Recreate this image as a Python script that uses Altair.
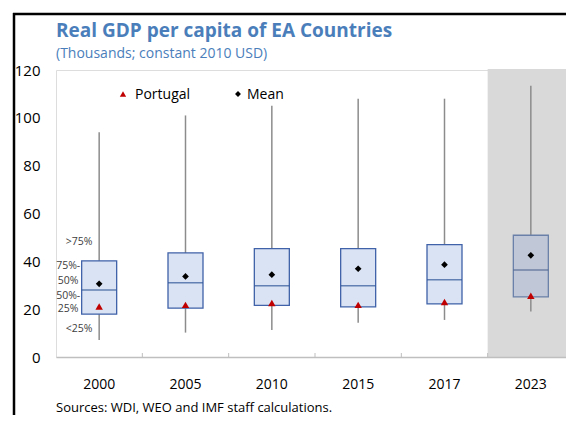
import altair as alt
import pandas as pd

years = ["2000", "2005", "2010", "2015", "2017", "2023"]
low = [7.1, 10.2, 11.3, 14.3, 15.5, 19.0]
q1 = [17.9, 20.4, 21.6, 21.0, 22.2, 25.1]
median = [28.0, 31.0, 29.8, 29.8, 32.3, 36.4]
q3 = [40.2, 43.5, 45.3, 45.3, 47.0, 50.9]
high = [94.0, 101.0, 105.0, 108.0, 108.0, 113.4]
mean = [30.6, 33.7, 34.4, 36.9, 38.6, 42.5]
portugal = [21.1, 21.8, 22.6, 21.8, 23.0, 25.6]

ann_outer = [">75%", "<25%"]
ann_outer_y = [48.1, 11.7]
ann_inner = ["75%-", "50%", "50%-", "25%"]
ann_inner_y = [37.9, 31.9, 25.6, 20.1]

title = "Real GDP per capita of EA Countries"
subtitle = "(Thousands; constant 2010 USD)"
source = "Sources: WDI, WEO and IMF staff calculations."

df = pd.DataFrame({"year": years, "low": low, "q1": q1, "median": median,
                   "q3": q3, "high": high, "mean": mean, "portugal": portugal})

FONT = "Open Sans"
W, H = 518, 287

xenc = alt.X("year:N", sort=years, title=None,
             scale=alt.Scale(domain=years, paddingInner=0, paddingOuter=0),
             axis=alt.Axis(labelAngle=0, labelFontSize=14, labelColor="#000000",
                           labelFont=FONT, labelPadding=20, ticks=False,
                           domainColor="#bfbfbf", domainWidth=1.5))
yscale = alt.Scale(domain=[0, 120], nice=False)

base = alt.Chart(df)

shade = base.transform_filter(alt.datum.year == "2023").mark_rect(
    color="#d9d9d9").encode(x=xenc, y=alt.value(-1), y2=alt.value(H))

ticks = base.transform_filter(alt.datum.year != "2000").mark_rule(
    color="#bfbfbf", strokeWidth=1).encode(
    x=alt.X("year:N", sort=years, bandPosition=0,
            scale=alt.Scale(domain=years, paddingInner=0, paddingOuter=0)),
    y=alt.value(H), y2=alt.value(H - 4))

whisk = base.mark_rule(color="#8c8c8c", strokeWidth=1.5).encode(
    x=xenc,
    y=alt.Y("low:Q", scale=yscale,
            axis=alt.Axis(values=[0, 20, 40, 60, 80, 100, 120], grid=False,
                          ticks=False, domain=False, labelFontSize=15,
                          labelColor="#000000", labelFont=FONT,
                          labelPadding=16),
            title=None),
    y2="high:Q")

is23 = alt.datum.year == "2023"
box = base.mark_bar(size=35, strokeWidth=1.3).encode(
    x=xenc, y=alt.Y("q1:Q", scale=yscale), y2="q3:Q",
    fill=alt.condition(is23, alt.value("#c0c7d6"), alt.value("#dae3f3")),
    stroke=alt.condition(is23, alt.value("#6a80a8"), alt.value("#3f62a8")))

med = base.mark_tick(size=35, thickness=1.5).encode(
    x=xenc, y=alt.Y("median:Q", scale=yscale),
    color=alt.condition(is23, alt.value("#4a6490"), alt.value("#2f5597")))

meanpt = base.mark_point(shape="diamond", filled=True, size=45,
                         color="#000000", opacity=1).encode(
    x=xenc, y=alt.Y("mean:Q", scale=yscale))

port = base.mark_point(shape="triangle-up", filled=True, size=55,
                       color="#c00000", opacity=1).encode(
    x=xenc, y=alt.Y("portugal:Q", scale=yscale))

ann_o = alt.Chart(pd.DataFrame({"year": ["2000"] * 2, "t": ann_outer, "v": ann_outer_y})).mark_text(
    fontSize=10.5, font=FONT, color="#404040", dx=-20, align="center").encode(
    x=xenc, y=alt.Y("v:Q", scale=yscale), text="t:N")
ann_i = alt.Chart(pd.DataFrame({"year": ["2000"] * 4, "t": ann_inner, "v": ann_inner_y})).mark_text(
    fontSize=10.5, font=FONT, color="#404040", dx=-31, align="center").encode(
    x=xenc, y=alt.Y("v:Q", scale=yscale), text="t:N")

one = pd.DataFrame({"a": [0]})
leg_tri = alt.Chart(one).mark_point(shape="triangle-up", filled=True, size=40,
                                    color="#c00000", opacity=1).encode(
    x=alt.value(67), y=alt.value(24))
leg_tri_t = alt.Chart(one).mark_text(text="Portugal", align="left", baseline="middle",
                                     fontSize=14, font=FONT, color="#000000").encode(
    x=alt.value(79), y=alt.value(25))
leg_dia = alt.Chart(one).mark_point(shape="diamond", filled=True, size=35,
                                    color="#000000", opacity=1).encode(
    x=alt.value(182), y=alt.value(24))
leg_dia_t = alt.Chart(one).mark_text(text="Mean", align="left", baseline="middle",
                                     fontSize=14, font=FONT, color="#000000").encode(
    x=alt.value(191), y=alt.value(25))

t1 = alt.Chart(one).mark_text(text=title, align="left", baseline="middle", fontSize=19,
                              fontWeight="bold", font=FONT, color="#4a7ebb").encode(
    x=alt.value(0), y=alt.value(-39))
t2 = alt.Chart(one).mark_text(text=subtitle, align="left", baseline="middle", fontSize=14,
                              font=FONT, color="#4a7ebb").encode(
    x=alt.value(0), y=alt.value(-16))
src = alt.Chart(one).mark_text(text=source, align="left", baseline="middle", fontSize=13,
                               font=FONT, color="#000000").encode(
    x=alt.value(0), y=alt.value(338))

frame_l = alt.Chart(one).mark_rule(color="#000000", strokeWidth=2.5).encode(
    x=alt.value(-42), y=alt.value(-57), y2=alt.value(360))
frame_t = alt.Chart(one).mark_rule(color="#000000", strokeWidth=2.5).encode(
    x=alt.value(-43), x2=alt.value(530), y=alt.value(-56))

chart = alt.layer(shade, ticks, whisk, box, med, meanpt, port, ann_o, ann_i,
                  leg_tri, leg_tri_t, leg_dia, leg_dia_t, t1, t2, src,
                  frame_l, frame_t).properties(
    width=W, height=H,
    autosize=alt.AutoSizeParams(type="none"),
    padding={"left": 48, "top": 62, "right": -8, "bottom": 58},
).configure_view(stroke="#bfbfbf", strokeWidth=1.5).configure(background="white")

chart.save("out.html", embed_options={"renderer": "svg", "actions": False})
